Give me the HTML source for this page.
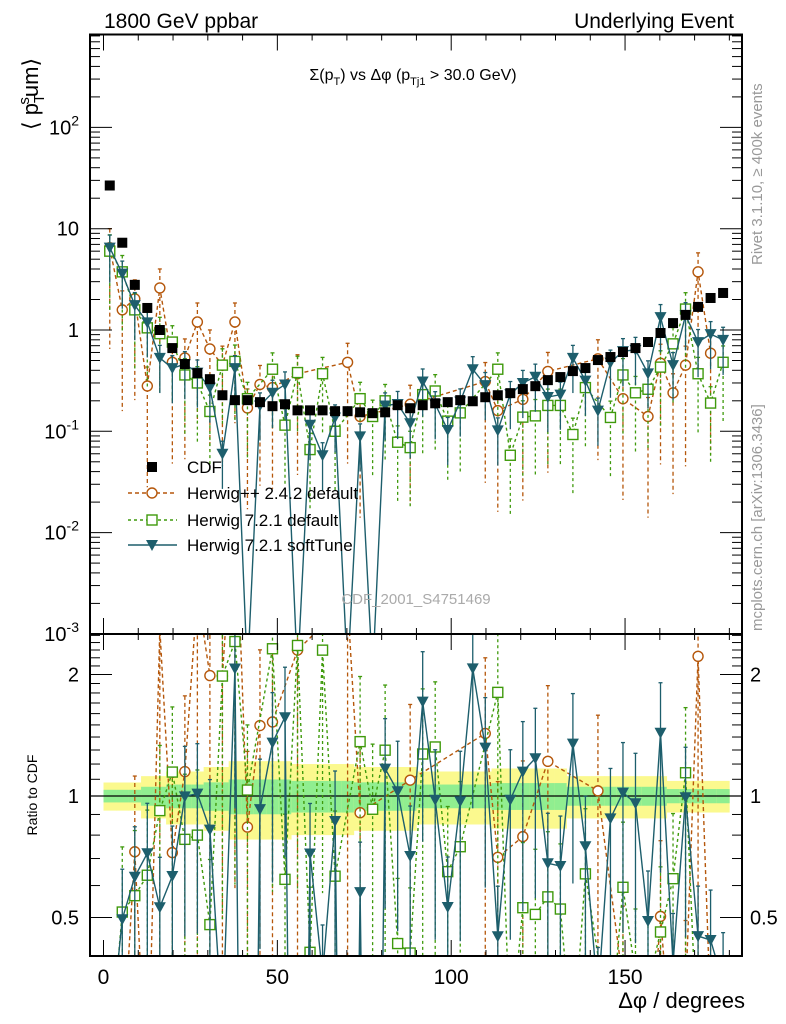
<!DOCTYPE html>
<html><head><meta charset="utf-8"><style>
html,body{margin:0;padding:0;background:#fff;width:786px;height:1024px;overflow:hidden;}
svg{display:block;font-family:"Liberation Sans",sans-serif;}
</style></head><body>
<svg id="chart" width="786" height="1024" viewBox="0 0 786 1024" xmlns="http://www.w3.org/2000/svg">
<defs>
<clipPath id="clipMain"><rect x="90" y="34.5" width="652" height="599.5"/></clipPath>
<clipPath id="clipRatio"><rect x="90" y="634" width="652" height="322"/></clipPath>
</defs>
<rect x="0" y="0" width="786" height="1024" fill="#fff"/>
<g id="bands" clip-path="url(#clipRatio)"></g>
<g id="mainMarks" clip-path="url(#clipMain)"></g>
<g id="ratioMarks" clip-path="url(#clipRatio)"></g>
<g id="axes"></g>
<text x="104" y="28" font-size="21">1800 GeV ppbar</text>
<text x="734" y="28" font-size="21" text-anchor="end">Underlying Event</text>
<text x="413" y="80" font-size="16" text-anchor="middle">Σ(p<tspan font-size="11" dy="5">T</tspan><tspan dy="-5">) vs Δφ (p</tspan><tspan font-size="11" dy="5">Tj1</tspan><tspan dy="-5"> &gt; 30.0 GeV)</tspan></text>
<text transform="translate(38,130) rotate(-90)" font-size="22">⟨ p<tspan font-size="15" dy="6">T</tspan><tspan font-size="15" dy="-15" dx="-9">s</tspan><tspan dy="9">um⟩</tspan></text>
<text transform="translate(37,795) rotate(-90)" font-size="14" text-anchor="middle">Ratio to CDF</text>
<text x="745" y="1008" font-size="22" text-anchor="end">Δφ / degrees</text>
<text transform="translate(762,265) rotate(-90)" font-size="15" fill="#999">Rivet 3.1.10, ≥ 400k events</text>
<text transform="translate(762,631) rotate(-90)" font-size="15" fill="#999">mcplots.cern.ch [arXiv:1306.3436]</text>
<text x="416" y="604" font-size="15" fill="#aaa" text-anchor="middle">CDF_2001_S4751469</text>
<g id="legend"></g>
</svg>
<script>
// ---- data (50 bins of 3.6 degrees) ----
const binWidth = 3.6;
const cdfValues = [26.7,7.27,2.79,1.65,1.00,0.663,0.461,0.375,0.327,0.227,0.203,0.203,0.194,0.177,0.185,0.161,0.161,0.161,0.158,0.158,0.154,0.151,0.154,0.181,0.169,0.181,0.189,0.194,0.203,0.198,0.217,0.227,0.238,0.261,0.279,0.320,0.343,0.393,0.421,0.505,0.541,0.606,0.663,0.761,0.934,1.17,1.41,1.69,2.07,2.32];
const cdfRelErr = [0.08,0.08,0.08,0.12,0.12,0.15,0.15,0.15,0.18,0.18,0.22,0.22,0.22,0.22,0.22,0.2,0.2,0.2,0.2,0.2,0.18,0.18,0.18,0.18,0.18,0.15,0.15,0.15,0.15,0.15,0.15,0.17,0.17,0.17,0.17,0.17,0.17,0.12,0.12,0.12,0.12,0.12,0.12,0.12,0.12,0.09,0.09,0.09,0.09,0.09];
const herwigppValues = [6.5,1.58,2.03,0.28,2.6,0.48,0.53,1.2,0.65,0.45,1.2,0.17,0.29,0.27,null,0.37,null,null,null,0.48,0.14,null,null,null,0.185,null,null,null,null,null,0.31,0.16,null,0.207,null,0.39,null,null,null,0.52,null,0.21,null,0.14,0.47,0.24,0.45,3.75,0.59,null];
const herwig7Values = [6.0,3.75,1.58,1.05,0.92,0.76,0.36,0.30,0.157,0.45,0.49,0.21,null,0.41,0.115,0.38,0.066,0.37,0.10,null,0.21,0.14,0.20,0.078,0.069,0.23,0.25,0.126,0.152,null,null,0.41,0.058,0.138,0.142,0.18,0.18,0.093,0.27,null,0.137,0.36,0.24,0.26,0.43,0.73,1.61,0.37,0.19,0.48];
const softTuneValues = [6.5,3.6,1.76,1.19,0.53,0.42,0.46,0.38,0.27,0.06,0.42,0.0004,0.18,0.24,0.29,0.0004,0.116,0.058,0.137,0.0004,0.089,0.0004,0.18,0.186,0.12,0.31,0.185,0.103,0.197,0.41,0.286,0.102,0.233,0.30,0.346,0.218,0.23,0.53,0.316,0.16,0.476,0.618,0.636,0.373,1.34,0.45,1.40,0.76,0.91,0.80];
const xTicks = [0,50,100,150];
const mainYTicks = [2,1,0,-1,-2,-3];
const ratioTicks = [0.5,1,2];

const NS="http://www.w3.org/2000/svg";
function el(tag, attrs, parent){const e=document.createElementNS(NS,tag);for(const k in attrs)e.setAttribute(k,attrs[k]);parent.appendChild(e);return e;}
function xPos(d){return 103.5+3.477*d;}
function yMain(v){return 330-101.3*Math.log10(v);}
function yRatio(r){return 796-121.5*Math.log2(r);}
const binCenter=i=>(i+0.5)*binWidth;

// ---- ratio band ----
const bands=document.getElementById('bands');
cdfRelErr.forEach((e,i)=>{
  const x0=xPos(i*binWidth), x1=xPos((i+1)*binWidth);
  const ry=el('rect',{x:x0,y:yRatio(1+e),width:x1-x0+0.3,height:yRatio(1-e)-yRatio(1+e),fill:'#fbf98e'},bands);
  
  
  const g=e*0.45;
  const rg=el('rect',{x:x0,y:yRatio(1+g),width:x1-x0+0.3,height:yRatio(1-g)-yRatio(1+g),fill:'#90ee90'},bands);
  
  
});
const unity=el('line',{x1:90,x2:742,y1:yRatio(1),y2:yRatio(1),stroke:'#000','stroke-width':1.2},bands);



// ---- series ----
const series=[
 {name:'herwigpp-2-4-2',vals:herwigppValues,color:'#b5570b',dash:'4,3',err:0.9,marker:'circle'},
 {name:'herwig-7-2-1-default',vals:herwig7Values,color:'#3f9a0c',dash:'3,3',err:0.75,marker:'square'},
 {name:'herwig-7-2-1-softtune',vals:softTuneValues,color:'#1d5e6c',dash:'',err:0.55,marker:'triangle'}
];
const mainG=document.getElementById('mainMarks');
const ratioG=document.getElementById('ratioMarks');

function drawMarker(s,x,y,parent){
  let m;
  if(s.marker==='circle') m=el('circle',{cx:x,cy:y,r:5,fill:'#fff',stroke:s.color,'stroke-width':1.4},parent);
  else if(s.marker==='square') m=el('rect',{x:x-5,y:y-5,width:10,height:10,fill:'#fff',stroke:s.color,'stroke-width':1.4},parent);
  else m=el('path',{d:`M${x-6},${y-5} L${x+6},${y-5} L${x},${y+6} Z`,fill:s.color},parent);
  return m;
}
function drawSeries(s,g,yf,ref){
  const pts=[];
  s.vals.forEach((v,i)=>{ if(v===null) return; const val=ref?v/ref[i]:v; pts.push([xPos(binCenter(i)),val]); });
  pts.forEach(([x,v])=>{
    const lo=Math.max(v*(1-s.err),1e-6), hi=v*(1+s.err*0.6);
    const eb=el('line',{x1:x,x2:x,y1:yf(hi),y2:yf(lo),stroke:s.color,'stroke-width':1.3,'stroke-dasharray':s.dash},g);
    
    
    el('line',{x1:x-2,x2:x+2,y1:yf(hi),y2:yf(hi),stroke:s.color,'stroke-width':1.3},g);
  });
  const path=el('polyline',{points:pts.map(([x,v])=>x+','+yf(v)).join(' '),fill:'none',stroke:s.color,'stroke-width':1.4,'stroke-dasharray':s.dash},g);
  
  
  pts.forEach(([x,v])=>{
    const m=drawMarker(s,x,yf(v),g);
    
    
  });
}
series.forEach(s=>drawSeries(s,mainG,yMain,null));
cdfValues.forEach((v,i)=>{
  const x=xPos(binCenter(i)), y=yMain(v);
  const r=el('rect',{x:x-5,y:y-5,width:10,height:10,fill:'#000'},mainG);
  
  
});
series.forEach(s=>drawSeries(s,ratioG,yRatio,cdfValues));

// ---- axes ----
const ax=document.getElementById('axes');
const f1=el('rect',{x:90,y:34.5,width:652,height:599.5,fill:'none',stroke:'#000','stroke-width':2},ax);


const f2=el('rect',{x:90,y:634,width:652,height:322,fill:'none',stroke:'#000','stroke-width':2},ax);


for(let d=0; d<=180; d+=10){
  const x=xPos(d), major=(d%50===0), L=major?16:6;
  [[34.5,1],[634,-1],[634,1],[956,-1]].forEach(([y0,dir])=>{
    el('line',{x1:x,x2:x,y1:y0,y2:y0+dir*L,stroke:'#000','stroke-width':1},ax);
  });
}
xTicks.forEach(d=>{
  const t=el('text',{x:xPos(d),y:984,'font-size':21,'text-anchor':'middle'},ax);
  t.textContent=String(d);
  
  
});
for(let e=-3;e<=2;e++){
  for(let m=1;m<=9;m++){
    const v=m*Math.pow(10,e), y=yMain(v);
    if(y<34.5||y>634) continue;
    const L=m===1?22:10;
    el('line',{x1:90,x2:90+L,y1:y,y2:y,stroke:'#000','stroke-width':1},ax);
    el('line',{x1:742,x2:742-L,y1:y,y2:y,stroke:'#000','stroke-width':1},ax);
  }
}
mainYTicks.forEach(e=>{
  const y=yMain(Math.pow(10,e));
  const t=el('text',{x:79,y:y+7,'font-size':20,'text-anchor':'end'},ax);
  
  
  if(e===1) t.textContent='10';
  else if(e===0) t.textContent='1';
  else { t.textContent='10'; const s=el('tspan',{'font-size':14,dy:-9},t); s.textContent=String(e); }
});
for(let r=0.4;r<=2.55;r+=0.1){
  const rr=Math.round(r*10)/10, y=yRatio(rr);
  if(y<634||y>956) continue;
  const L=(rr===0.5||rr===1||rr===2)?22:10;
  el('line',{x1:90,x2:90+L,y1:y,y2:y,stroke:'#000','stroke-width':1},ax);
  el('line',{x1:742,x2:742-L,y1:y,y2:y,stroke:'#000','stroke-width':1},ax);
}
ratioTicks.forEach(r=>{
  const y=yRatio(r);
  const t=el('text',{x:79,y:y+7,'font-size':20,'text-anchor':'end'},ax);
  t.textContent=String(r);
  
  
  const t2=el('text',{x:750,y:y+7,'font-size':20},ax);
  t2.textContent=String(r);
  
  
});

// ---- legend ----
const lg=document.getElementById('legend');
const legendRows=[
 {label:'CDF',y:467,s:null},
 {label:'Herwig++ 2.4.2 default',y:493,s:series[0]},
 {label:'Herwig 7.2.1 default',y:520,s:series[1]},
 {label:'Herwig 7.2.1 softTune',y:545,s:series[2]}
];
legendRows.forEach(row=>{
  const g=el('g',{},lg);
  
  
  if(!row.s){ el('rect',{x:147,y:row.y-5,width:10,height:10,fill:'#000'},g); }
  else {
    el('line',{x1:128,x2:177,y1:row.y,y2:row.y,stroke:row.s.color,'stroke-width':1.4,'stroke-dasharray':row.s.dash},g);
    drawMarker(row.s,152,row.y,g);
  }
  const t=el('text',{x:187,y:row.y+6,'font-size':17},g);
  t.textContent=row.label;
});
</script>
</body></html>
